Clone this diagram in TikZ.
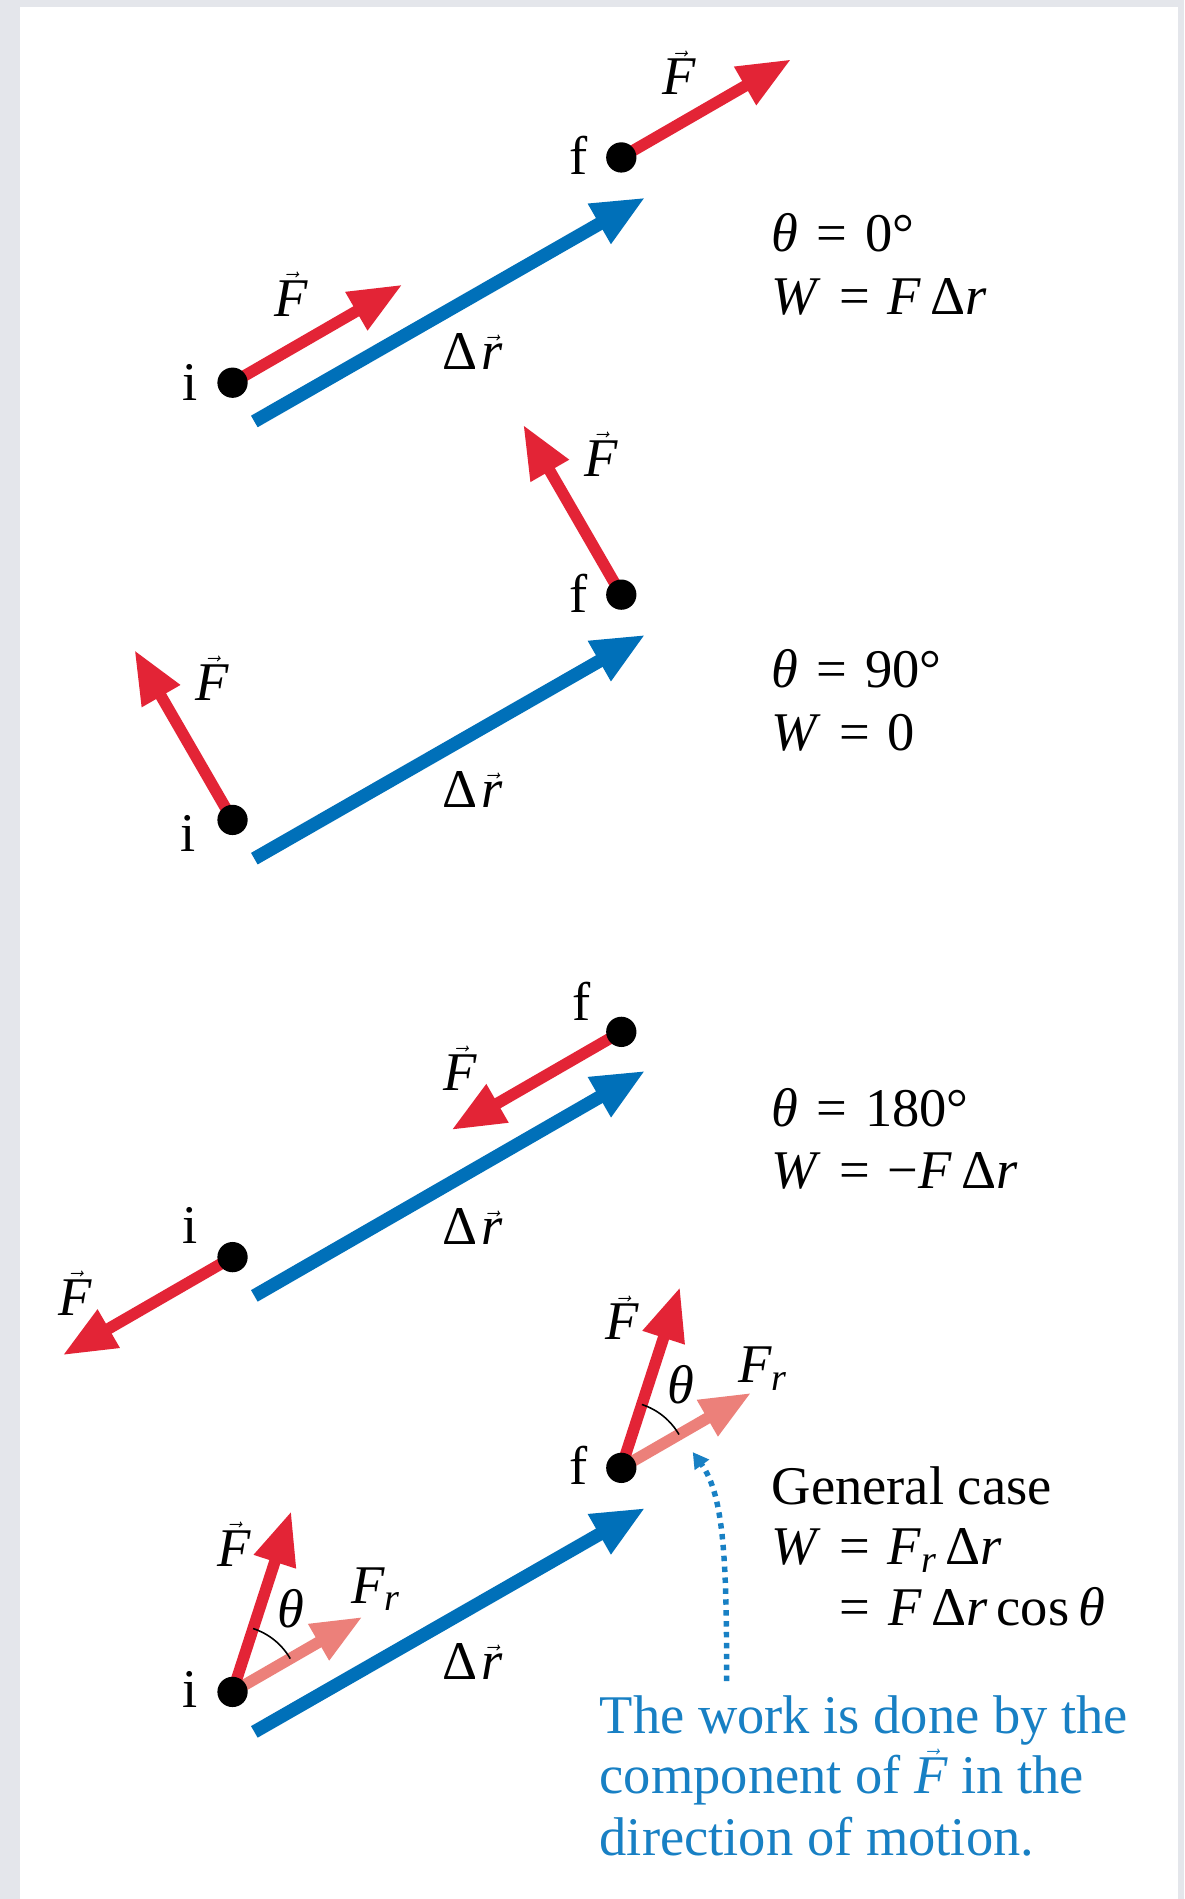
\documentclass[tikz,border=0pt]{standalone}
\usepackage{amsmath}
\usepackage{fontspec}
\setmainfont{Liberation Serif}
\usetikzlibrary{arrows.meta}
\definecolor{bgray}{RGB}{228,230,235}
\definecolor{fred}{RGB}{227,36,54}
\definecolor{dblue}{RGB}{0,112,185}
\definecolor{fpink}{RGB}{236,128,122}
\definecolor{tblue}{RGB}{24,128,196}
\newcommand{\vF}{$\vec{\textit{F}}$}
\newcommand{\vDr}{Δ\kern3pt$\vec{\textit{r}}$}
\newcommand{\Fr}{$\textit{F}_{\textit{r}}$}
\newcommand{\eqsign}{\hspace{0.33em}=\hspace{0.33em}}
\tikzset{
  lab/.style={inner sep=0pt, font=\fontsize{45}{54}\selectfont},
  eqn/.style={lab, anchor=base west},
  mypoint/.style={circle, fill=black, inner sep=0pt, minimum size=25pt},
  redarrow/.style={draw=fred, line width=9.5pt, -{Triangle[length=44pt,width=34pt]}},
  pinkarrow/.style={draw=fpink, line width=9.5pt, -{Triangle[length=42pt,width=32pt]}},
  bluearrow/.style={draw=dblue, line width=11pt, -{Triangle[length=44pt,width=35pt]}},
  dotarrow/.style={draw=tblue, line width=4.5pt, dash pattern=on 4.5pt off 4.5pt, -{Triangle[length=13pt,width=14pt]}},
  anglearc/.style={draw=black, line width=1.3pt}
}
\begin{document}
\begin{tikzpicture}[x=1pt,y=-1pt]
\fill[bgray] (0,0) rectangle (978,1568);
\fill[white] (16.5,5.8) rectangle (973,1568);
\useasboundingbox (0,0) rectangle (978,1568);

% ---------- Panel 1: theta = 0
\coordinate (i1) at (192,316);
\coordinate (f1) at (513,130);
\coordinate (d1a) at (210,348);
\coordinate (d1b) at (533,163);
\path (i1) ++(30:162pt) coordinate (i1F);
\path (f1) ++(30:162pt) coordinate (f1F);
\draw[bluearrow] (d1a) -- (d1b);
\draw[redarrow] (i1) -- (i1F);
\draw[redarrow] (f1) -- (f1F);
\node[mypoint] (i1dot) at (i1) {};
\node[mypoint] (f1dot) at (f1) {};
\node[lab] (i1l) at (157,316) {i};
\node[lab] (f1l) at (478,128) {f};
\node[lab] (i1Fl) at (240,243) {\vF};
\node[lab] (f1Fl) at (561,60) {\vF};
\node[lab] (d1l) at (390,290) {\vDr};
\node[eqn] (e1a) at (637,208) {\textit{θ}\eqsign0°};
\node[eqn] (e1b) at (637,260) {\textit{W}\eqsign\textit{F}\,Δ\textit{r}};

% ---------- Panel 2: theta = 90
\coordinate (i2) at (192,677);
\coordinate (f2) at (513,491);
\coordinate (d2a) at (210,709);
\coordinate (d2b) at (533,524);
\path (i2) ++(120:162pt) coordinate (i2F);
\path (f2) ++(120:162pt) coordinate (f2F);
\draw[bluearrow] (d2a) -- (d2b);
\draw[redarrow] (i2) -- (i2F);
\draw[redarrow] (f2) -- (f2F);
\node[mypoint] (i2dot) at (i2) {};
\node[mypoint] (f2dot) at (f2) {};
\node[lab] (i2l) at (155,688) {i};
\node[lab] (f2l) at (478,490) {f};
\node[lab] (i2Fl) at (175,560) {\vF};
\node[lab] (f2Fl) at (496,375) {\vF};
\node[lab] (d2l) at (390,652) {\vDr};
\node[eqn] (e2a) at (637,568) {\textit{θ}\eqsign90°};
\node[eqn] (e2b) at (637,620) {\textit{W}\eqsign0};

% ---------- Panel 3: theta = 180
\coordinate (i3) at (192,1038);
\coordinate (f3) at (513,852);
\coordinate (d3a) at (210,1070);
\coordinate (d3b) at (533,884);
\path (i3) ++(210:162pt) coordinate (i3F);
\path (f3) ++(210:162pt) coordinate (f3F);
\draw[bluearrow] (d3a) -- (d3b);
\draw[redarrow] (i3) -- (i3F);
\draw[redarrow] (f3) -- (f3F);
\node[mypoint] (i3dot) at (i3) {};
\node[mypoint] (f3dot) at (f3) {};
\node[lab] (i3l) at (157,1012) {i};
\node[lab] (f3l) at (480,827) {f};
\node[lab] (i3Fl) at (62,1068) {\vF};
\node[lab] (f3Fl) at (380,882) {\vF};
\node[lab] (d3l) at (390,1013) {\vDr};
\node[eqn] (e3a) at (637,930) {\textit{θ}\eqsign180°};
\node[eqn] (e3b) at (637,981) {\textit{W}\eqsign−\textit{F}\,Δ\textit{r}};

% ---------- Panel 4: general case
\coordinate (i4) at (192,1397);
\coordinate (f4) at (513,1212);
\coordinate (d4a) at (210,1430);
\coordinate (d4b) at (533,1245);
\path (i4) ++(72:157pt) coordinate (i4F);
\path (f4) ++(72:157pt) coordinate (f4F);
\path (i4) ++(30:124pt) coordinate (i4R);
\path (f4) ++(30:124pt) coordinate (f4R);
\draw[bluearrow] (d4a) -- (d4b);
\draw[pinkarrow] (i4) -- (i4R);
\draw[pinkarrow] (f4) -- (f4R);
\draw[redarrow] (i4) -- (i4F);
\draw[redarrow] (f4) -- (f4F);
\draw[anglearc] (i4) ++(30:55pt) arc[start angle=30, end angle=72, radius=55pt];
\draw[anglearc] (f4) ++(30:55pt) arc[start angle=30, end angle=72, radius=55pt];
\node[mypoint] (i4dot) at (i4) {};
\node[mypoint] (f4dot) at (f4) {};
\node[lab] (i4l) at (157,1395) {i};
\node[lab] (f4l) at (478,1210) {f};
\node[lab] (i4Fl) at (193,1275) {\vF};
\node[lab] (f4Fl) at (514,1088) {\vF};
\node[lab] (i4th) at (240,1328) {\textit{θ}};
\node[lab] (f4th) at (562,1143) {\textit{θ}};
\node[lab] (i4Rl) at (310,1312) {\Fr};
\node[lab] (f4Rl) at (630,1130) {\Fr};
\node[lab] (d4l) at (390,1372) {\vDr};
\node[eqn] (e4a) at (637,1242) {General case};
\node[eqn] (e4b) at (637,1292) {\textit{W}\eqsign\Fr\,Δ\textit{r}};
\node[eqn] (e4c) at (693,1342) {=\hspace{0.33em}\textit{F}\,Δ\textit{r}\,cos\,\textit{θ}};

% ---------- note
\coordinate (n1) at (600,1388);
\coordinate (n2) at (572,1199);
\draw[dotarrow] (n1) .. controls (600,1290) and (598,1235) .. (n2);
\node[eqn, text=tblue] (t1) at (495,1431) {The work is done by the};
\node[eqn, text=tblue] (t2) at (495,1481) {component of \vF\ in the};
\node[eqn, text=tblue] (t3) at (495,1532) {direction of motion.};
\end{tikzpicture}
\end{document}
